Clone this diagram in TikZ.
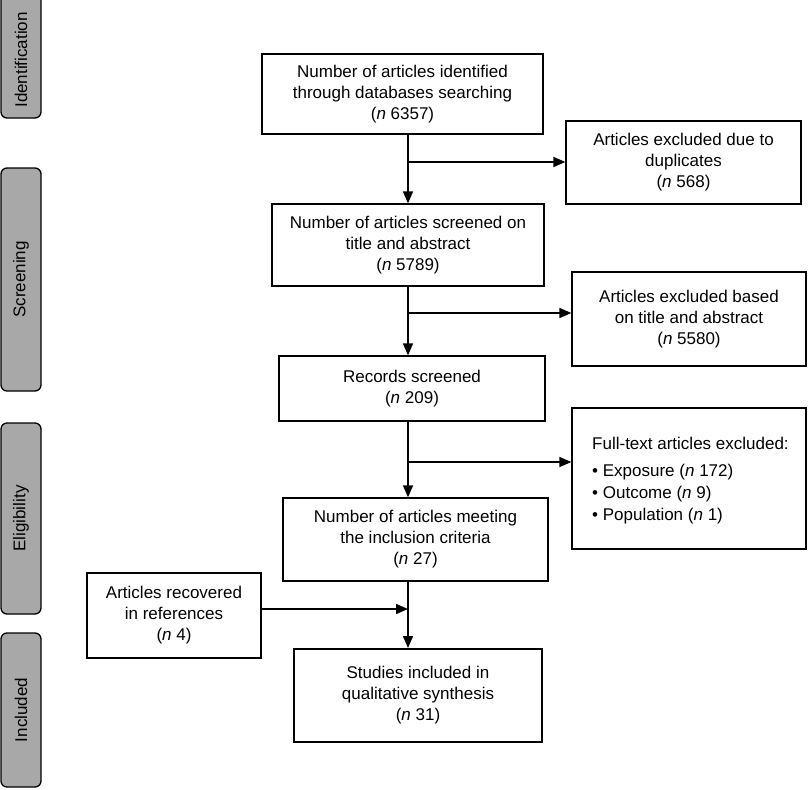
\documentclass[tikz,border=0pt]{standalone}
\usepackage{fontspec}
\setmainfont{Liberation Sans}
\usetikzlibrary{arrows.meta}
\begin{document}
\begin{tikzpicture}[x=1pt,y=-1pt,
  every node/.style={font=\fontsize{17}{21}\selectfont},
  box/.style={draw, line width=1.3pt, align=center, inner sep=0pt},
  bar/.style={draw, line width=1.3pt, rounded corners=6pt, fill=gray!68},
  bartext/.style={rotate=90, inner sep=0pt},
  arr/.style={line width=1.6pt, -{Triangle[length=12pt,width=10pt]}}]
\useasboundingbox (0,0) rectangle (810,789);
% phase bars
\draw[bar] (1,-10) rectangle (41,118);
\node[bartext] (tid) at (21,60) {Identification};
\draw[bar] (1,168) rectangle (41,391);
\node[bartext] (tsc) at (21,279.5) {Screening};
\draw[bar] (1,423) rectangle (41,614);
\node[bartext] (tel) at (21,518.5) {Eligibility};
\draw[bar] (1,633) rectangle (41,787);
\node[bartext] (tin) at (21,710) {Included};
% main boxes
\node[box, minimum width=281pt, minimum height=80pt] (b1) at (402.5,94)
  {Number of articles identified\\through databases searching\\(\textit{n} 6357)};
\node[box, minimum width=235pt, minimum height=83pt] (e1) at (683.5,162.5)
  {Articles excluded due to\\duplicates\\(\textit{n} 568)};
\node[box, minimum width=272pt, minimum height=82pt] (b2) at (408,245)
  {Number of articles screened on\\title and abstract\\(\textit{n} 5789)};
\node[box, minimum width=234pt, minimum height=94pt] (e2) at (689,319)
  {Articles excluded based\\on title and abstract\\(\textit{n} 5580)};
\node[box, minimum width=266pt, minimum height=65pt] (b3) at (412,388.5)
  {Records screened\\(\textit{n} 209)};
\node[box, minimum width=234pt, minimum height=141pt] (e3) at (689,478.5) {};
\node[anchor=north west, inner sep=0pt, align=left] (e3t) at (592,437)
  {Full-text articles excluded:\\[6pt]
   \textbullet\ Exposure (\textit{n} 172)\\[1pt]
   \textbullet\ Outcome (\textit{n} 9)\\[1pt]
   \textbullet\ Population (\textit{n} 1)};
\node[box, minimum width=265pt, minimum height=83pt] (b4) at (415.5,539.5)
  {Number of articles meeting\\the inclusion criteria\\(\textit{n} 27)};
\node[box, minimum width=174pt, minimum height=85pt] (r) at (174,615.5)
  {Articles recovered\\in references\\(\textit{n} 4)};
\node[box, line width=2pt, minimum width=248pt, minimum height=93pt] (b5) at (418,695.5)
  {Studies included in\\qualitative synthesis\\(\textit{n} 31)};
% connectors
\coordinate (vx) at (408,0);
\draw[arr] (vx |- b1.south) -- (vx |- b2.north);
\coordinate (j1) at (408,162);
\draw[arr] (j1) -- (e1.west |- j1);
\draw[arr] (vx |- b2.south) -- (vx |- b3.north);
\coordinate (j2) at (408,313);
\draw[arr] (j2) -- (e2.west |- j2);
\draw[arr] (vx |- b3.south) -- (vx |- b4.north);
\coordinate (j3) at (408,462);
\draw[arr] (j3) -- (e3.west |- j3);
\draw[arr] (vx |- b4.south) -- (vx |- b5.north);
\coordinate (j4) at (408,609);
\draw[arr] (r.east |- j4) -- (j4);
\end{tikzpicture}
\end{document}
